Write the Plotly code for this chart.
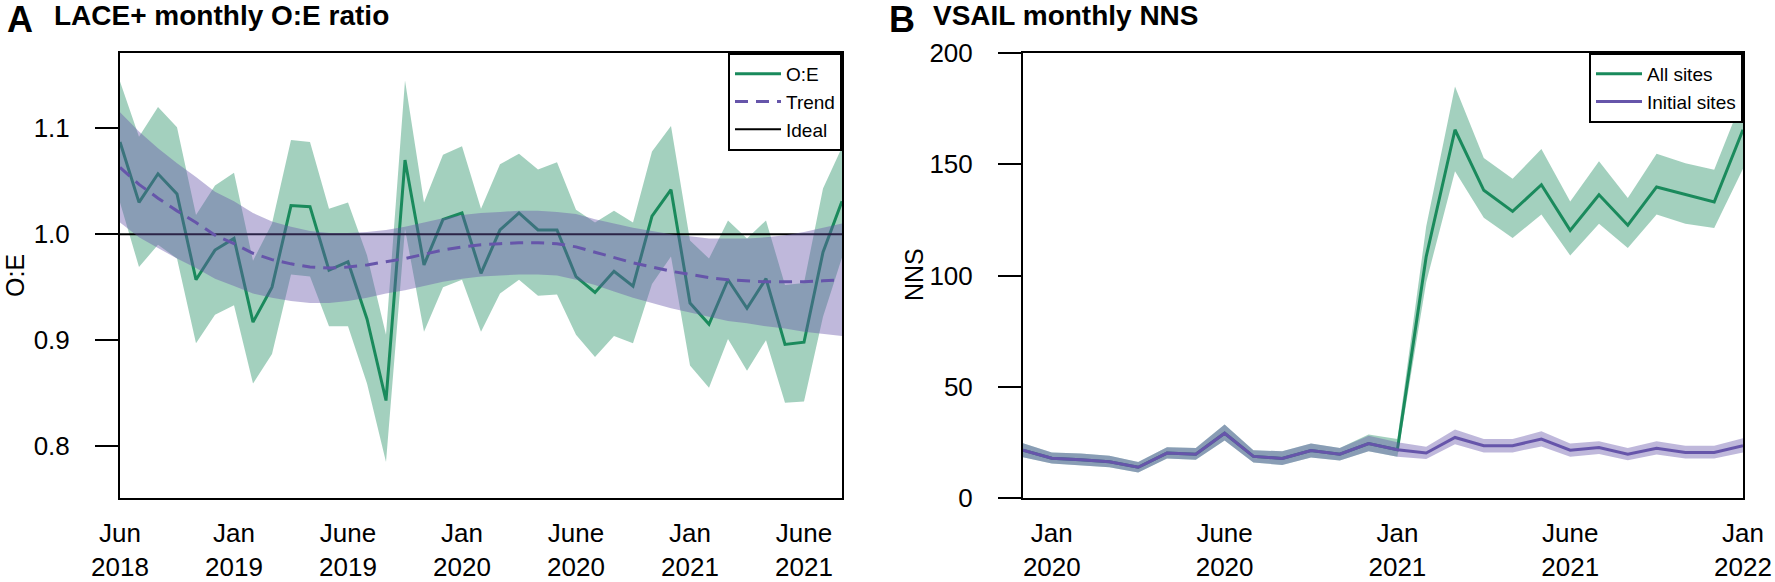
import plotly.graph_objects as go

# ---------------- Panel A data (LACE+ monthly O:E ratio) ----------------
months_a = ["2018-06","2018-07","2018-08","2018-09","2018-10","2018-11","2018-12",
            "2019-01","2019-02","2019-03","2019-04","2019-05","2019-06","2019-07",
            "2019-08","2019-09","2019-10","2019-11","2019-12","2020-01","2020-02",
            "2020-03","2020-04","2020-05","2020-06","2020-07","2020-08","2020-09",
            "2020-10","2020-11","2020-12","2021-01","2021-02","2021-03","2021-04",
            "2021-05","2021-06","2021-07","2021-08"]
oe = [1.087, 1.030, 1.057, 1.038, 0.957, 0.985, 0.996, 0.917, 0.950, 1.027,
      1.026, 0.966, 0.974, 0.920, 0.843, 1.070, 0.971, 1.014, 1.020, 0.963,
      1.004, 1.020, 1.004, 1.004, 0.960, 0.945, 0.965, 0.951, 1.017, 1.042,
      0.935, 0.915, 0.957, 0.930, 0.958, 0.896, 0.898, 0.983, 1.031]
oe_hi = [1.144, 1.092, 1.120, 1.101, 1.018, 1.046, 1.058, 0.975, 1.010, 1.089,
         1.087, 1.024, 1.030, 0.980, 0.905, 1.145, 1.030, 1.075, 1.083, 1.024,
         1.066, 1.076, 1.061, 1.068, 1.023, 1.011, 1.022, 1.011, 1.078, 1.102,
         0.994, 0.977, 1.013, 0.996, 1.013, 0.952, 0.954, 1.043, 1.082]
oe_lo = [1.030, 0.969, 0.990, 0.977, 0.897, 0.924, 0.933, 0.859, 0.887, 0.962,
         0.960, 0.913, 0.913, 0.859, 0.785, 1.005, 0.908, 0.950, 0.957, 0.908,
         0.944, 0.957, 0.942, 0.943, 0.905, 0.884, 0.904, 0.897, 0.953, 0.979,
         0.876, 0.855, 0.901, 0.871, 0.900, 0.841, 0.842, 0.922, 0.978]
trend = [1.063, 1.047, 1.034, 1.022, 1.011, 0.999, 0.991, 0.982, 0.976, 0.972,
         0.969, 0.968, 0.969, 0.971, 0.974, 0.977, 0.981, 0.985, 0.988, 0.990,
         0.991, 0.992, 0.992, 0.991, 0.988, 0.983, 0.978, 0.973, 0.969, 0.965,
         0.962, 0.959, 0.957, 0.956, 0.955, 0.955, 0.955, 0.956, 0.957]
trend_hi = [1.115, 1.097, 1.081, 1.067, 1.054, 1.040, 1.031, 1.020, 1.012, 1.007,
            1.003, 1.001, 1.001, 1.002, 1.004, 1.007, 1.011, 1.015, 1.018, 1.020,
            1.021, 1.022, 1.022, 1.021, 1.019, 1.014, 1.010, 1.006, 1.003, 1.000,
            0.998, 0.996, 0.996, 0.996, 0.997, 0.999, 1.002, 1.006, 1.010]
trend_lo = [1.011, 0.997, 0.987, 0.977, 0.968, 0.958, 0.951, 0.944, 0.940, 0.937,
            0.935, 0.935, 0.937, 0.940, 0.944, 0.947, 0.951, 0.955, 0.958, 0.960,
            0.961, 0.962, 0.962, 0.961, 0.957, 0.952, 0.946, 0.940, 0.935, 0.930,
            0.926, 0.922, 0.918, 0.916, 0.913, 0.911, 0.908, 0.906, 0.904]
ideal = 1.0
tick_a_pos = [0, 6, 12, 18, 24, 30, 36]
tick_a_text = ["Jun<br>2018", "Jan<br>2019", "June<br>2019", "Jan<br>2020",
               "June<br>2020", "Jan<br>2021", "June<br>2021"]
ytick_a = [0.8, 0.9, 1.0, 1.1]
ytick_a_text = ["0.8", "0.9", "1.0", "1.1"]

# ---------------- Panel B data (VSAIL monthly NNS) ----------------
months_b = ["2019-12","2020-01","2020-02","2020-03","2020-04","2020-05","2020-06",
            "2020-07","2020-08","2020-09","2020-10","2020-11","2020-12","2021-01",
            "2021-02","2021-03","2021-04","2021-05","2021-06","2021-07","2021-08",
            "2021-09","2021-10","2021-11","2021-12","2022-01"]
nns_init = [21.5, 17.9, 17.2, 16.3, 13.8, 20.2, 19.7, 29.1, 18.7, 17.8, 21.3, 19.7, 24.5,
            21.7, 20.2, 27.2, 23.5, 23.5, 26.5, 21.5, 22.7, 19.7, 22.3, 20.5, 20.5, 23.5]
nns_init_hi = [24.6, 20.5, 20.0, 19.0, 16.2, 22.8, 22.5, 33.0, 21.5, 21.0, 24.5, 22.5, 28.0,
               25.0, 23.0, 30.8, 26.5, 26.5, 30.0, 24.5, 25.5, 22.5, 25.5, 23.5, 23.5, 26.8]
nns_init_lo = [18.3, 15.5, 14.8, 13.8, 11.5, 17.8, 17.2, 25.8, 16.0, 14.8, 18.2, 16.8, 21.0,
               18.5, 17.5, 24.2, 20.5, 20.5, 23.2, 18.5, 19.8, 17.0, 19.5, 17.8, 17.8, 20.5]
nns_all = [21.5, 17.9, 17.2, 16.3, 13.8, 20.2, 19.7, 29.1, 18.7, 17.8, 21.3, 19.7, 24.5,
           21.7, 108.5, 165.5, 138.3, 128.8, 140.8, 120.3, 136.3, 122.6, 139.8, 136.3,
           133.0, 165.5]
nns_all_hi = [24.6, 20.5, 20.0, 19.0, 16.2, 22.8, 22.5, 33.0, 21.5, 21.0, 24.5, 22.5, 28.5,
              26.5, 122.0, 185.0, 152.8, 143.5, 156.8, 133.3, 151.3, 134.8, 154.7, 150.5,
              147.5, 180.0]
nns_all_lo = [18.3, 15.5, 14.8, 13.8, 11.5, 17.8, 17.2, 25.8, 16.0, 14.8, 18.2, 16.8, 21.0,
              18.5, 97.0, 146.8, 125.9, 116.9, 127.4, 109.0, 123.3, 112.4, 127.4, 123.3,
              121.4, 148.0]
tick_b_pos = [1, 7, 13, 19, 25]
tick_b_text = ["Jan<br>2020", "June<br>2020", "Jan<br>2021", "June<br>2021", "Jan<br>2022"]
ytick_b = [0, 50, 100, 150, 200]

# ---------------- styling ----------------
GREEN = "#1a8a5c"
GREEN_FILL = "rgba(26,138,92,0.40)"
PURPLE = "#6655aa"
PURPLE_FILL = "rgba(102,85,170,0.42)"
FONT = "Liberation Sans, Arial, Helvetica, sans-serif"
W, H = 1775, 582

def px_x(p):
    return p / W

def px_y(p):
    return 1 - p / H

xa = list(range(len(months_a)))
xb = list(range(len(months_b)))

def ribbon(x, lo, hi, color, xaxis, yaxis):
    return go.Scatter(x=list(x) + list(x)[::-1], y=list(hi) + list(lo)[::-1],
                      fill="toself", fillcolor=color, line=dict(width=0),
                      mode="lines", hoverinfo="skip", showlegend=False,
                      xaxis=xaxis, yaxis=yaxis)

fig = go.Figure()
# Panel A
fig.add_trace(ribbon(xa, oe_lo, oe_hi, GREEN_FILL, "x", "y"))
fig.add_trace(go.Scatter(x=xa, y=oe, mode="lines", name="O:E",
                         line=dict(color=GREEN, width=3), legend="legend",
                         legendrank=1, xaxis="x", yaxis="y"))
fig.add_trace(go.Scatter(x=[xa[0], xa[-1]], y=[ideal, ideal], mode="lines", name="Ideal",
                         line=dict(color="black", width=2), legend="legend",
                         legendrank=3, xaxis="x", yaxis="y"))
fig.add_trace(ribbon(xa, trend_lo, trend_hi, PURPLE_FILL, "x", "y"))
fig.add_trace(go.Scatter(x=xa, y=trend, mode="lines", name="Trend",
                         line=dict(color=PURPLE, width=3, dash="13px,8px"),
                         legend="legend", legendrank=2, xaxis="x", yaxis="y"))
# Panel B
fig.add_trace(ribbon(xb, nns_all_lo, nns_all_hi, GREEN_FILL, "x2", "y2"))
fig.add_trace(go.Scatter(x=xb, y=nns_all, mode="lines", name="All sites",
                         line=dict(color=GREEN, width=3), legend="legend2",
                         legendrank=1, xaxis="x2", yaxis="y2"))
fig.add_trace(ribbon(xb, nns_init_lo, nns_init_hi, PURPLE_FILL, "x2", "y2"))
fig.add_trace(go.Scatter(x=xb, y=nns_init, mode="lines", name="Initial sites",
                         line=dict(color=PURPLE, width=3), legend="legend2",
                         legendrank=2, xaxis="x2", yaxis="y2"))

axis_common = dict(showgrid=False, zeroline=False, showline=True, linecolor="black",
                   linewidth=2, mirror=True, automargin=False,
                   tickfont=dict(family=FONT, size=26, color="black"))

legend_common = dict(yanchor="top", y=px_y(53), xanchor="right",
                     bgcolor="white", bordercolor="black", borderwidth=2,
                     font=dict(family=FONT, size=19, color="black"),
                     tracegroupgap=0, itemwidth=46)

fig.update_layout(
    width=W, height=H,
    margin=dict(l=0, r=0, t=0, b=0, pad=0, autoexpand=False),
    paper_bgcolor="white", plot_bgcolor="white",
    font=dict(family=FONT, color="black"),
    xaxis=dict(domain=[px_x(120), px_x(842)], range=[xa[0], xa[-1]],
               tickvals=tick_a_pos, ticktext=tick_a_text, ticks="",
               ticklabelstandoff=11, anchor="y", **axis_common),
    yaxis=dict(domain=[px_y(498), px_y(53)], range=[0.751, 1.171],
               tickvals=ytick_a, ticktext=ytick_a_text, ticks="outside",
               ticklen=23, tickwidth=2, tickcolor="black", ticklabelstandoff=20,
               anchor="x", **axis_common),
    xaxis2=dict(domain=[px_x(1023), px_x(1743)], range=[xb[0], xb[-1]],
                tickvals=tick_b_pos, ticktext=tick_b_text, ticks="",
                ticklabelstandoff=11, anchor="y2", **axis_common),
    yaxis2=dict(domain=[px_y(498), px_y(53)], range=[0, 200],
                tickvals=ytick_b, ticks="outside",
                ticklen=23, tickwidth=2, tickcolor="black", ticklabelstandoff=20,
                anchor="x2", **axis_common),
    legend=dict(x=px_x(842), **legend_common),
    legend2=dict(x=px_x(1743), **legend_common),
)

annotations = [
    dict(text="<b>A</b>", x=px_x(5), y=px_y(20), xanchor="left", yanchor="middle",
         font=dict(family=FONT, size=36, color="black")),
    dict(text="<b>LACE+ monthly O:E ratio</b>", x=px_x(52), y=px_y(15),
         xanchor="left", yanchor="middle", font=dict(family=FONT, size=28, color="black")),
    dict(text="<b>B</b>", x=px_x(887), y=px_y(20), xanchor="left", yanchor="middle",
         font=dict(family=FONT, size=36, color="black")),
    dict(text="<b>VSAIL monthly NNS</b>", x=px_x(931), y=px_y(15),
         xanchor="left", yanchor="middle", font=dict(family=FONT, size=28, color="black")),
    dict(text="O:E", x=px_x(15), y=px_y(275), xanchor="center", yanchor="middle",
         textangle=-90, font=dict(family=FONT, size=25, color="black")),
    dict(text="NNS", x=px_x(914), y=px_y(275), xanchor="center", yanchor="middle",
         textangle=-90, font=dict(family=FONT, size=25, color="black")),
]
for a in annotations:
    a.update(xref="paper", yref="paper", showarrow=False)
fig.update_layout(annotations=annotations)

fig.write_html("out.html", config={"displayModeBar": False},
               post_script="document.body.style.margin='0px';")
